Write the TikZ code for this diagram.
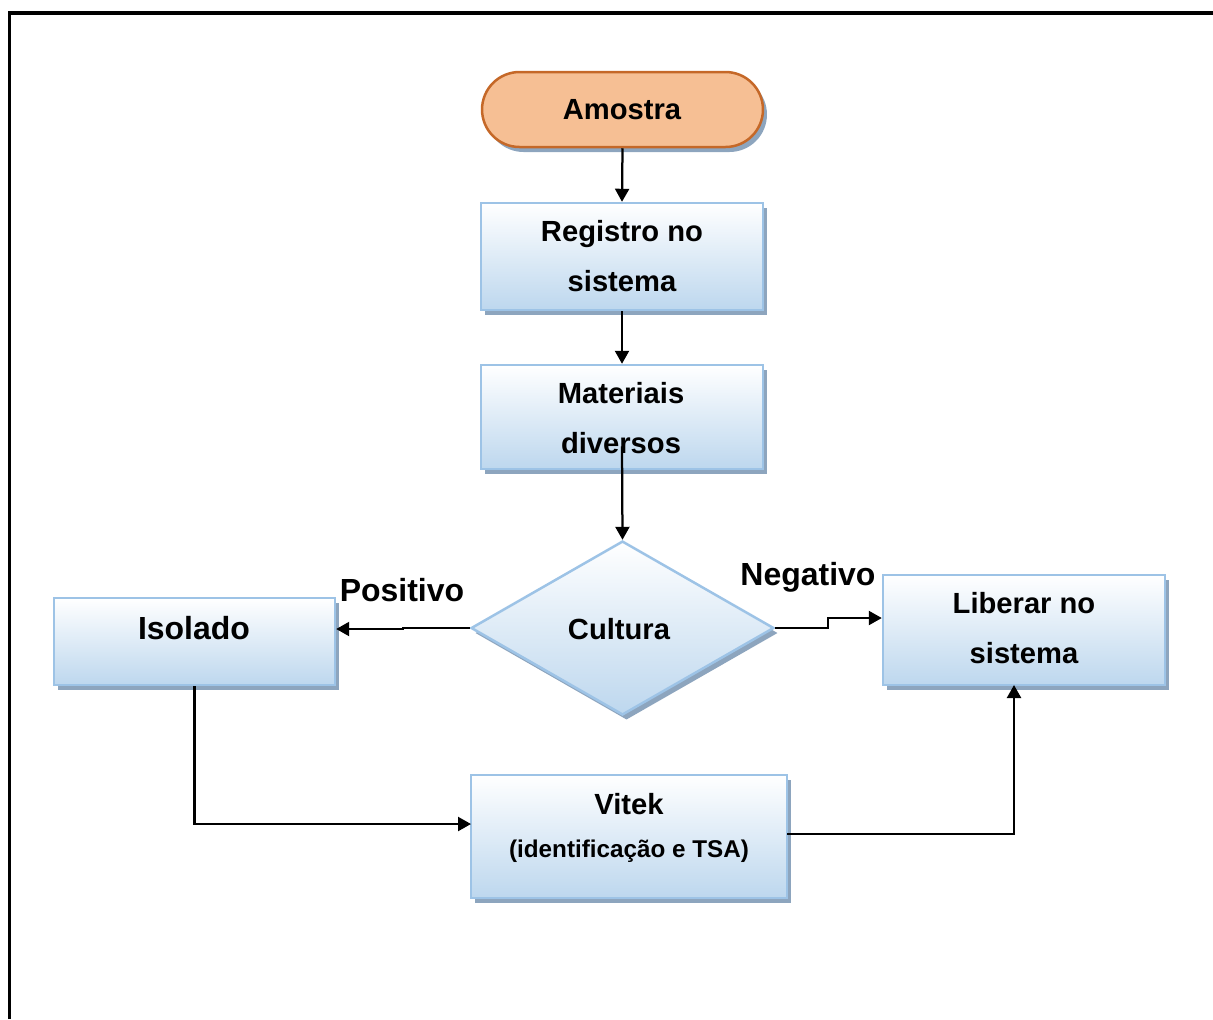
\documentclass[tikz,border=0pt]{standalone}
\usepackage{fontspec}
\setmainfont{Liberation Sans}
\usetikzlibrary{shapes.geometric,shapes.misc,shadows,arrows.meta}
\definecolor{boxbot}{RGB}{189,215,238}
\definecolor{boxline}{RGB}{157,195,230}
\definecolor{shad}{RGB}{141,165,190}
\definecolor{orfill}{RGB}{246,191,148}
\definecolor{orline}{RGB}{197,104,40}
\begin{document}
\begin{tikzpicture}[x=0.02cm,y=-0.02cm,
  shd/.style={drop shadow={shadow xshift=0.08cm,shadow yshift=-0.1cm,fill=shad,opacity=1}},
  box/.style={rectangle,draw=boxline,line width=0.05cm,top color=white,bottom color=boxbot,shd,inner sep=0},
  dia/.style={diamond,draw=boxline,line width=0.05cm,top color=white,bottom color=boxbot,shd,inner sep=0},
  term/.style={rounded rectangle,draw=orline,line width=0.05cm,fill=orfill,shd,inner sep=0},
  txt/.style={font=\bfseries\fontsize{16.6}{28.5}\selectfont,align=center,inner sep=0},
  lbl/.style={font=\bfseries\fontsize{18.2}{22}\selectfont,align=center,inner sep=0},
  small/.style={font=\bfseries\fontsize{13.8}{16}\selectfont,align=center,inner sep=0},
  arr/.style={line width=0.045cm,-{Triangle[length=0.26cm,width=0.28cm]}}]
\useasboundingbox (0,0) rectangle (1213,1019);
% frame
\draw[line width=0.08cm] (9.5,1019) -- (9.5,12.5) -- (1213,12.5);
% shapes
\node[term,minimum width=5.62cm,minimum height=1.5cm] (amo) at (622.5,109.5) {};
\node[box,minimum width=5.64cm,minimum height=2.14cm] (reg) at (622,256.5) {};
\node[box,minimum width=5.64cm,minimum height=2.08cm] (mat) at (622,417) {};
\node[dia,minimum width=6.06cm,minimum height=3.48cm] (cul) at (622.5,628) {};
\node[box,minimum width=5.62cm,minimum height=1.74cm] (iso) at (194.5,641.5) {};
\node[box,minimum width=5.64cm,minimum height=2.2cm] (lib) at (1024,630) {};
\node[box,minimum width=6.32cm,minimum height=2.46cm] (vit) at (629,836.5) {};
% texts
\node[txt] (tamo) at (622,110) {Amostra};
\node[txt] (treg) at (622,256) {Registro no\\sistema};
\node[txt] (tmat) at (621,418.5) {Materiais\\diversos};
\node[txt] (tcul) at (619,629) {Cultura};
\node[lbl] (tiso) at (194,628) {Isolado};
\node[txt] (tlib) at (1024,628.5) {Liberar no\\sistema};
\node[txt] (tvit) at (629,804) {Vitek};
\node[small] (tvit2) at (629,851) {(identificação e TSA)};
\node[lbl] (tpos) at (402,590) {Positivo};
\node[lbl] (tneg) at (808,577) {Negativo};
% helper coordinates
\coordinate (mout) at ([yshift=0.48cm]mat.south);
\coordinate (nj) at (828,618);
\coordinate (vin) at (471,824);
\coordinate (vout) at (787,834);
\coordinate (lin) at (1014,685);
% connectors
\draw[arr] (amo.south) -- (reg.north);
\draw[arr] (reg.south) -- (mat.north);
\draw[arr] (mout) -- (cul.north);
\draw[arr] (cul.west) -- (403,628) -- (403,629) -- (iso.east |- 0,629);
\draw[arr] (cul.east) -- (828,628) -- (nj) -- (nj -| lib.west);
\draw[arr] (iso.south) |- (vin);
\draw[arr] (vout) -| (lin);
\end{tikzpicture}
\end{document}
